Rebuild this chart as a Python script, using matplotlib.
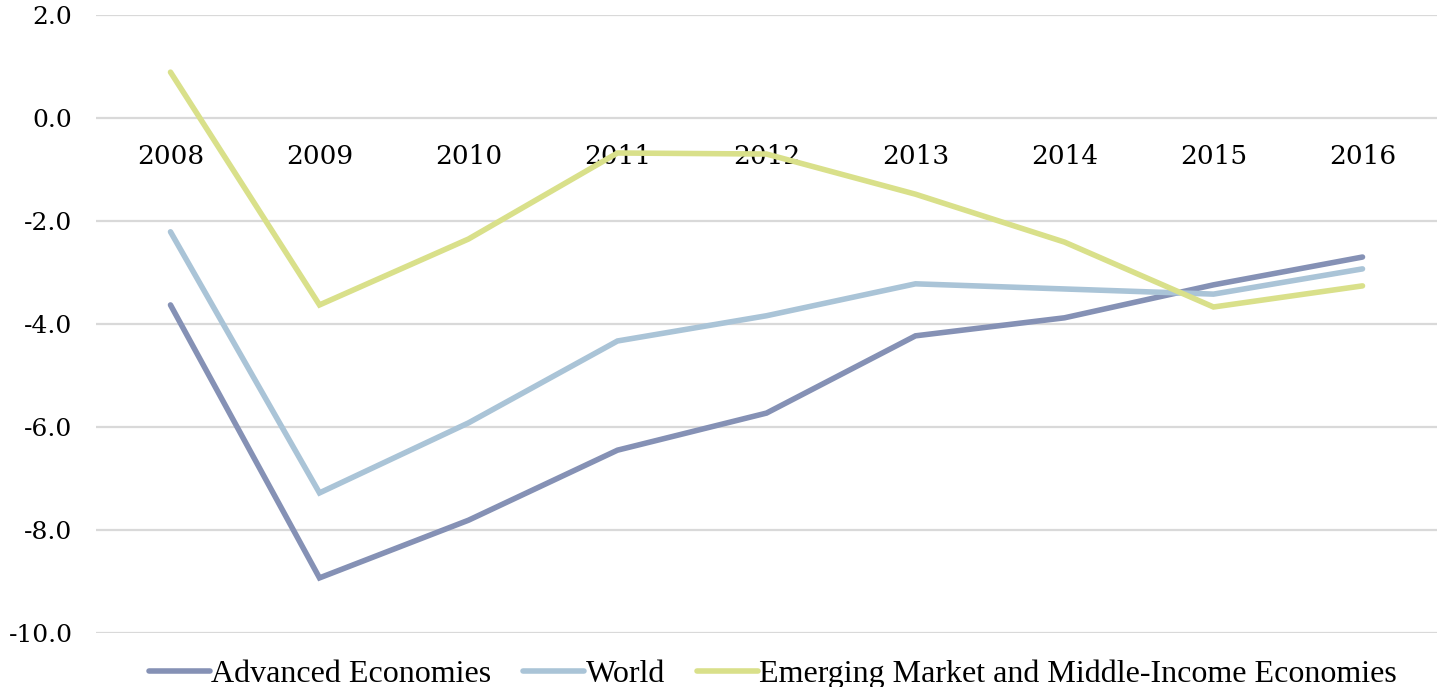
import matplotlib
matplotlib.use("Agg")
import matplotlib.pyplot as plt

years = ["2008", "2009", "2010", "2011", "2012", "2013", "2014", "2015", "2016"]
advanced = [-3.63, -8.93, -7.81, -6.45, -5.73, -4.23, -3.88, -3.24, -2.70]
world = [-2.21, -7.28, -5.92, -4.33, -3.84, -3.22, -3.32, -3.42, -2.93]
emerging = [0.89, -3.63, -2.35, -0.68, -0.70, -1.48, -2.41, -3.67, -3.26]
y_ticks = [2.0, 0.0, -2.0, -4.0, -6.0, -8.0, -10.0]

series = [
    ("Advanced Economies", advanced, "#8591b5"),
    ("World", world, "#aac4d7"),
    ("Emerging Market and Middle-Income Economies", emerging, "#d9e08a"),
]

fig = plt.figure(figsize=(14.37, 6.87), dpi=100)
ax = fig.add_axes([0.0668, 0.0786, 0.9332, 0.8996])

# category axis sits on the zero line
ax.spines["bottom"].set_position(("data", 0))
for s in ax.spines.values():
    s.set_visible(False)

x = list(range(len(years)))
for name, vals, col in series:
    ax.plot(x, vals, color=col, lw=4.0, label=name, solid_capstyle="round",
            solid_joinstyle="miter", zorder=3)

ax.set_ylim(-10, 2)
ax.set_xlim(-0.5, 8.5)
ax.set_yticks(y_ticks)
ax.set_yticklabels([f"{v:.1f}" for v in y_ticks], family="DejaVu Serif", fontsize=18)
ax.set_xticks(x)
ax.set_xticklabels(years, family="DejaVu Serif", fontsize=19)
ax.grid(axis="y", color="#d9d9d9", lw=1.6, zorder=0)
ax.tick_params(axis="x", length=0, pad=19)
ax.tick_params(axis="y", length=0, pad=17)

leg = fig.legend(loc="lower center", bbox_to_anchor=(0.538, -0.045), ncol=3, frameon=False,
                 prop={"family": "Liberation Serif", "size": 23}, handlelength=1.9,
                 handletextpad=0.05, columnspacing=1.0)

fig.savefig("out.png", dpi=100)
